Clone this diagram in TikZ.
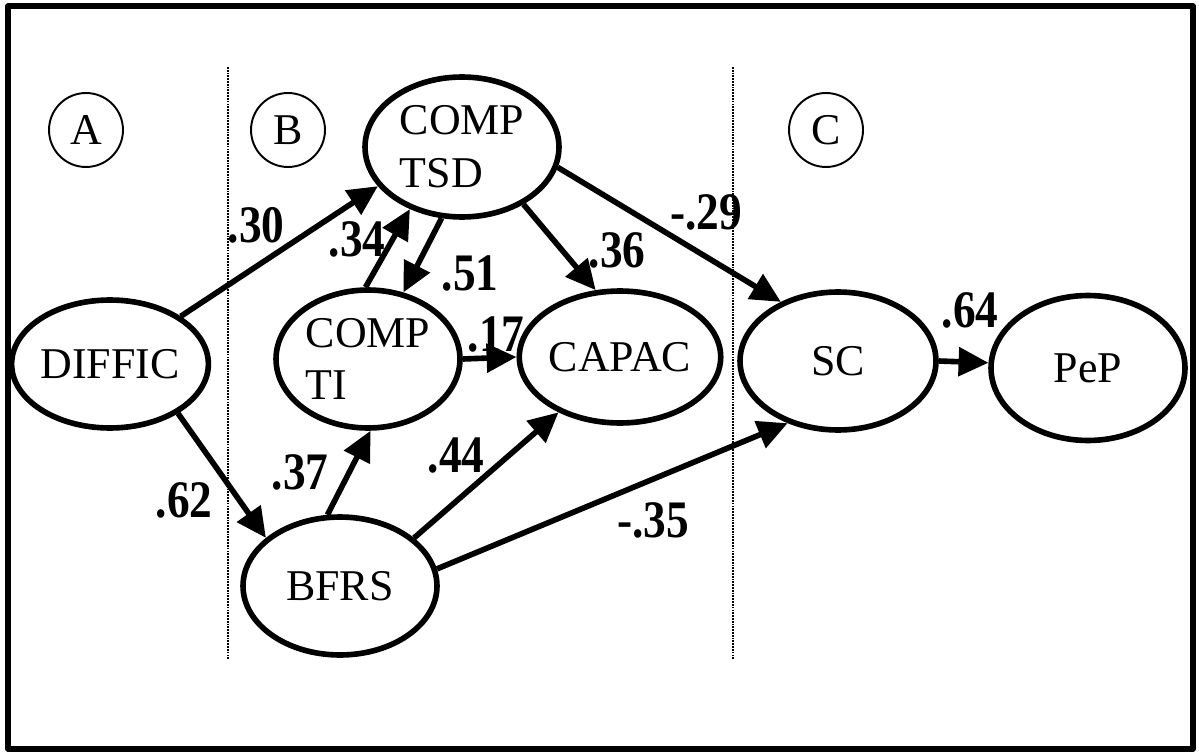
\documentclass[tikz,border=0pt]{standalone}
\usepackage{fontspec}
\setmainfont{Liberation Serif}
\newfontfamily\wtfont[FakeStretch=0.86]{Liberation Serif}
\usetikzlibrary{arrows.meta,shapes.geometric}
\begin{document}
\begin{tikzpicture}[x=0.02cm,y=-0.02cm, line join=round, >={Triangle[length=17pt,width=16pt]},
	font=\fontsize{25}{30}\selectfont,
	var/.style={draw,ellipse,line width=3.2pt,inner sep=0pt,align=left},
	grp/.style={draw,circle,line width=1.1pt,minimum size=1.48cm,inner sep=0pt},
	wt/.style={font=\wtfont\fontsize{30}{32}\selectfont\bfseries,inner sep=1pt}]
	\useasboundingbox (0,0) rectangle (1199,753);
	\draw[line width=3pt] (8,6) rectangle (1193,749);
	\foreach \x in {228,733}
	\draw[line width=1.1pt,dash pattern=on 1pt off 0.6pt] (\x,67) -- (\x,660);
	\path 
	(110,364) node[var,minimum width=3.8cm,minimum height=2.56cm] (diffic) {DIFFIC}
	(462,147) node[var,minimum width=3.88cm,minimum height=2.8cm] (tsd) {COMP\\TSD}
	(368,359) node[var,minimum width=3.68cm,minimum height=2.76cm] (ti) {COMP\\TI}
	(620,357) node[var,minimum width=3.64cm,minimum height=2.64cm] (capac) {CAPAC}
	(838,361) node[var,minimum width=3.92cm,minimum height=2.76cm] (sc) {SC}
	(1088,368) node[var,minimum width=3.88cm,minimum height=2.9cm] (pep) {PeP}
	(340,586) node[var,minimum width=3.88cm,minimum height=2.76cm] (bfrs) {BFRS}
	;
	\foreach \g/\x in {A/86,B/288,C/826}
	\node[grp] (g\g) at (\x,130) {\g};
	\foreach \a/\b in {diffic.34/tsd.205,diffic.324/bfrs.147,ti.92/tsd.230,tsd.254/ti.62,
		tsd.317/capac.110,tsd.348/sc.134,ti.0/capac.180,bfrs.100/ti.272,
		bfrs.33/capac.222,bfrs.10/sc.231,sc.0/pep.177}
	\draw[->,line width=3.2pt] (\a) -- (\b);
	\foreach \v/\p [count=\i] in {.30/{256,225},.34/{357,239},.51/{470,273},.36/{617,250},
		-.29/{706,212},.17/{496,334},.64/{970,310},.62/{184,500},.37/{300,472},
		.44/{456,456},-.35/{653,520}}
	\node[wt] (w\i) at (\p) {\v};
\end{tikzpicture}
\end{document}
